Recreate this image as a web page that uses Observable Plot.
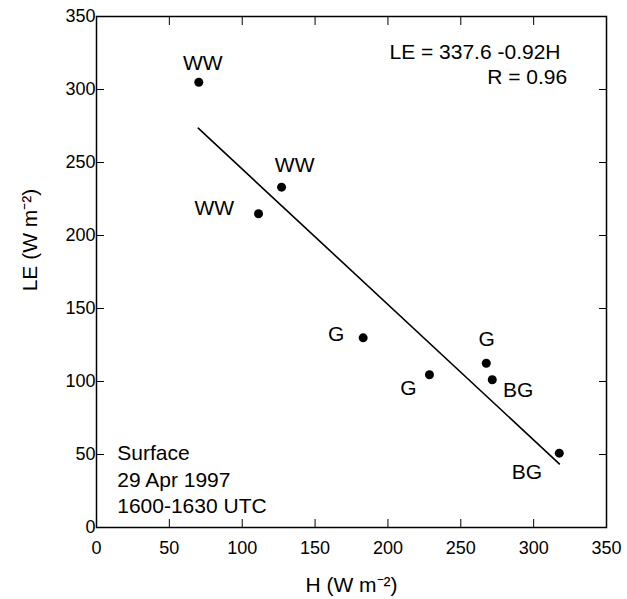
<!DOCTYPE html>
<html><head><meta charset="utf-8">
<script src="https://cdn.jsdelivr.net/npm/d3@7"></script>
<script src="https://cdn.jsdelivr.net/npm/@observablehq/plot@0.6"></script>
<style>body{margin:0;background:#fff} svg{font-family:"Liberation Sans",Arial,sans-serif}</style>
</head><body><div id="chart"></div>
<script>
// Observed points: sensible heat flux H vs latent heat flux LE (W m-2)
const H  = [70.2, 127.0, 111.2, 183.0, 228.5, 267.5, 271.6, 317.6];
const LE = [305.0, 233.1, 214.9, 129.9, 104.6, 112.5, 101.2, 50.9];
const surfaceTypes = ["WW", "WW", "WW", "G", "G", "G", "BG", "BG"];
// label anchor positions (data units)
const labelH  = [73, 136, 80.8, 164.5, 214.1, 267.7, 289.4, 295.4];
const labelLE = [318, 248, 218.8, 132.2, 95.7, 128.6, 93.8, 37.5];
// regression line end points
const fitH  = [69.8, 317.6];
const fitLE = [273.5, 43.6];
const ticks = [0, 50, 100, 150, 200, 250, 300, 350];
const eqLine1 = "LE = 337.6 -0.92H";
const eqLine2 = "R = 0.96";
const noteLines = ["Surface", "29 Apr 1997", "1600-1630 UTC"];
const xTitle = "H (W m⁻²)";
const yTitle = "LE (W m⁻²)";

const points = H.map((h, i) => ({h, le: LE[i]}));
const fit = fitH.map((h, i) => ({h, le: fitLE[i]}));
const blank = () => "";

const chart = Plot.plot({
  width: 627, height: 599,
  marginLeft: 96, marginRight: 21, marginTop: 16, marginBottom: 72,
  style: {fontFamily: "Liberation Sans, Arial, sans-serif", fontSize: "18px", color: "#000", background: "#fff"},
  x: {domain: [0, 350]},
  y: {domain: [0, 350]},
  marks: [
    Plot.frame({stroke: "#000", strokeWidth: 1.5}),
    Plot.axisX(ticks, {anchor: "bottom", tickSize: -8, tickPadding: 22, label: null, fontSize: 18}),
    Plot.axisX(ticks, {anchor: "top", tickSize: -8, tickFormat: blank, label: null}),
    Plot.axisY(ticks, {anchor: "left", tickSize: -8, tickPadding: 9, label: null, fontSize: 18}),
    Plot.axisY(ticks, {anchor: "right", tickSize: -8, tickFormat: blank, label: null}),
    Plot.line(fit, {x: "h", y: "le", stroke: "#000", strokeWidth: 1.6}),
    Plot.dot(points, {x: "h", y: "le", r: 4.5, fill: "#000", stroke: null}),
    Plot.text(surfaceTypes, {x: labelH, y: labelLE, text: surfaceTypes, fontSize: 21, fill: "#000"}),
    Plot.text([eqLine1], {frameAnchor: "top-right", textAnchor: "end", lineAnchor: "middle", dx: -46, dy: 35.7, fontSize: 21}),
    Plot.text([eqLine2], {frameAnchor: "top-right", textAnchor: "end", lineAnchor: "middle", dx: -39.3, dy: 61.2, fontSize: 21}),
    Plot.text([noteLines.join("\n")], {frameAnchor: "bottom-left", textAnchor: "start", lineAnchor: "middle", lineHeight: 1.27, dx: 20.7, dy: -49.5, fontSize: 21}),
    Plot.text([xTitle], {frameAnchor: "bottom", textAnchor: "middle", lineAnchor: "middle", dy: 58, fontSize: 21}),
    Plot.text([yTitle], {frameAnchor: "left", textAnchor: "middle", lineAnchor: "middle", rotate: -90, dx: -66, dy: -32, fontSize: 21})
  ]
});
document.getElementById("chart").appendChild(chart);
</script>
</body></html>
